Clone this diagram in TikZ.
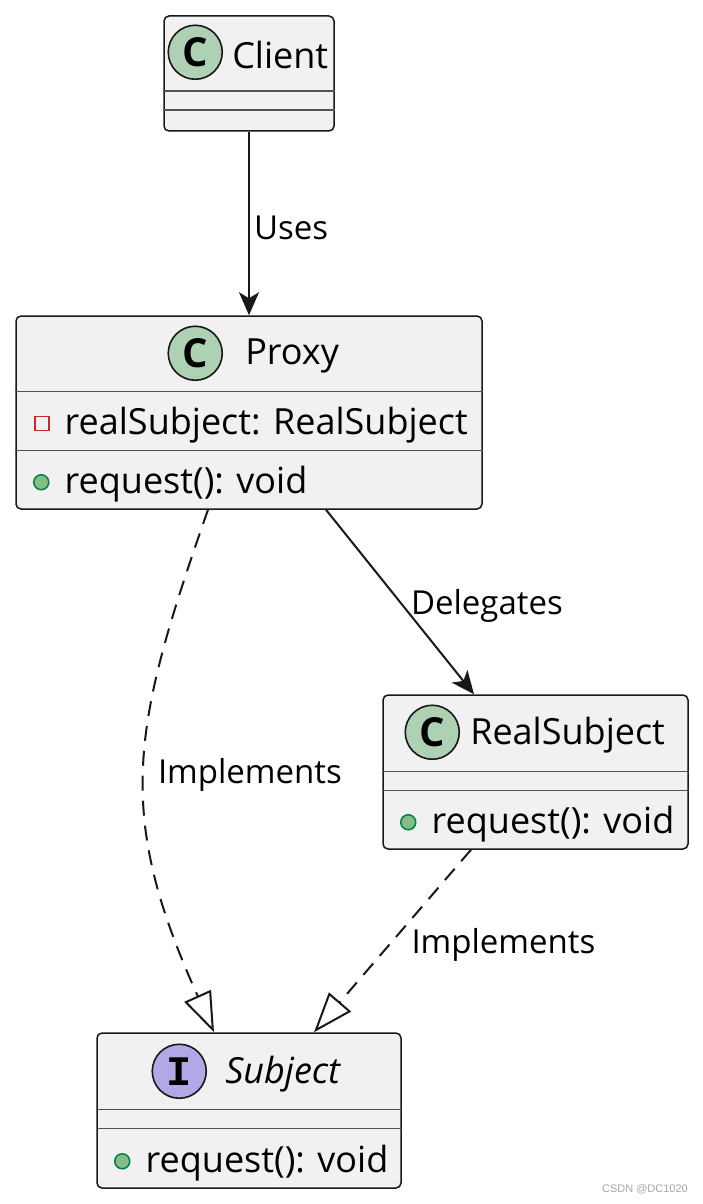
\documentclass[tikz,border=0pt]{standalone}
\usepackage{fontspec}
\setmainfont{Open Sans}
\newfontfamily\badgefont{Open Sans}
\newfontfamily\ifacefont{Liberation Mono}
\newfontfamily\wmfont{Liberation Sans}
\usepackage{tikz}
\usetikzlibrary{arrows.meta,positioning,calc}
\definecolor{umlfill}{RGB}{241,241,241}
\definecolor{umlline}{RGB}{24,24,24}
\definecolor{umlclass}{RGB}{173,209,178}
\definecolor{umliface}{RGB}{180,167,229}
\definecolor{umlpriv}{RGB}{200,41,48}
\definecolor{umlpub}{RGB}{132,190,132}
\definecolor{umlpubline}{RGB}{3,128,72}

\tikzset{
  umlbox/.style={draw=umlline, fill=umlfill, line width=1.5pt, rounded corners=5pt, inner sep=0pt},
  umlsep/.style={draw=umlline!75, line width=1.5pt},
  badge/.style={circle, draw=umlline, line width=1.6pt, minimum size=54pt, inner sep=0pt},
  classname/.style={inner sep=0pt, yshift=-3pt, font=\fontsize{36}{36}\selectfont},
  member/.style={inner sep=0pt, yshift=-2pt, font=\fontsize{36}{36}\selectfont},
  privmark/.style={rectangle, draw=umlpriv, line width=1.5pt, minimum size=14pt, inner sep=0pt},
  pubmark/.style={circle, draw=umlpubline, fill=umlpub, line width=1.5pt, minimum size=15pt, inner sep=0pt},
  edgelabel/.style={inner sep=0pt, yshift=-4pt, font=\fontsize{33}{33}\selectfont},
  assoc/.style={draw=umlline, line width=2pt, -{Stealth[length=23pt, width=20pt, inset=6pt]}},
  realize/.style={draw=umlline, line width=2pt, dash pattern=on 15pt off 10pt, -{Triangle[open, length=40pt, width=29pt]}}
}

\begin{document}
\begin{tikzpicture}[x=1pt, y=-1pt]
    \useasboundingbox (0,0) rectangle (703,1204);

    % Class boxes
    \node[umlbox, minimum width=170pt, minimum height=115pt] (client) at (249,73.5) {};
    \node[umlbox, minimum width=466pt, minimum height=193pt] (proxy) at (249,412.5) {};
    \node[umlbox, minimum width=305pt, minimum height=154pt] (realsub) at (535.5,772) {};
    \node[umlbox, minimum width=304pt, minimum height=155pt] (subject) at (249,1110.5) {};

    % Compartment lines
    \draw[umlsep] ($(client.north west)+(0,76)$) -- ($(client.north east)+(0,76)$);
    \draw[umlsep] ($(client.north west)+(0,95)$) -- ($(client.north east)+(0,95)$);
    \draw[umlsep] ($(proxy.north west)+(0,76)$) -- ($(proxy.north east)+(0,76)$);
    \draw[umlsep] ($(proxy.north west)+(0,135)$) -- ($(proxy.north east)+(0,135)$);
    \draw[umlsep] ($(realsub.north west)+(0,77)$) -- ($(realsub.north east)+(0,77)$);
    \draw[umlsep] ($(realsub.north west)+(0,96)$) -- ($(realsub.north east)+(0,96)$);
    \draw[umlsep] ($(subject.north west)+(0,77)$) -- ($(subject.north east)+(0,77)$);
    \draw[umlsep] ($(subject.north west)+(0,96)$) -- ($(subject.north east)+(0,96)$);

    % Headers
    \node[badge, fill=umlclass, font=\badgefont\bfseries\fontsize{40}{40}\selectfont] (clientC) at ($(client.north west)+(32,37)$) {C};
    \node[classname, right=9pt of clientC] (clientN) {Client};
    \node[badge, fill=umlclass, font=\badgefont\bfseries\fontsize{40}{40}\selectfont] (proxyC) at ($(proxy.north west)+(180,38)$) {C};
    \node[classname, right=22pt of proxyC] (proxyN) {Proxy};
    \node[badge, fill=umlclass, font=\badgefont\bfseries\fontsize{40}{40}\selectfont] (realsubC) at ($(realsub.north west)+(50,38)$) {C};
    \node[classname, right=10pt of realsubC] (realsubN) {RealSubject};
    \node[badge, fill=umliface, font=\ifacefont\bfseries\fontsize{42}{42}\selectfont] (subjectI) at ($(subject.north west)+(83,39)$) {I};
    \node[classname, right=18pt of subjectI, font=\itshape\fontsize{36}{36}\selectfont] (subjectN) {Subject};

    % Members
    \node[privmark] (proxyAttrM) at ($(proxy.north west)+(26.5,108)$) {};
    \node[member, right=15pt of proxyAttrM] (proxyAttr) {realSubject: RealSubject};
    \node[pubmark] (proxyOpM) at ($(proxy.north west)+(26,167)$) {};
    \node[member, right=15pt of proxyOpM] (proxyOp) {request(): void};
    \node[pubmark] (realsubOpM) at ($(realsub.north west)+(26,128)$) {};
    \node[member, right=15pt of realsubOpM] (realsubOp) {request(): void};
    \node[pubmark] (subjectOpM) at ($(subject.north west)+(26,129)$) {};
    \node[member, right=15pt of subjectOpM] (subjectOp) {request(): void};

    % Relations
    \draw[assoc] (client.south) -- node[edgelabel, right=4pt] (usesL) {Uses} (proxy.north);
    \draw[assoc] ($(proxy.south)+(77,0)$) -- node[edgelabel, anchor=west, xshift=10pt] (delegL) {Delegates} ($(realsub.north)+(-61.5,0)$);
    \draw[realize] ($(proxy.south)+(-41,0)$) .. controls +(-77,220) and +(-99,-220) .. node[edgelabel, pos=0.5, anchor=west, xshift=12pt] (implL) {Implements} ($(subject.north)+(-35,0)$);
    \draw[realize] ($(realsub.south)+(-64.5,0)$) -- node[edgelabel, anchor=west, xshift=18pt] (implR) {Implements} ($(subject.north)+(65,0)$);

    % Watermark
    \node[inner sep=0pt, anchor=east, text=gray!70, font=\wmfont\fontsize{11}{11}\selectfont] (wmark) at (688,1189) {CSDN @DC1020};
\end{tikzpicture}
\end{document}
